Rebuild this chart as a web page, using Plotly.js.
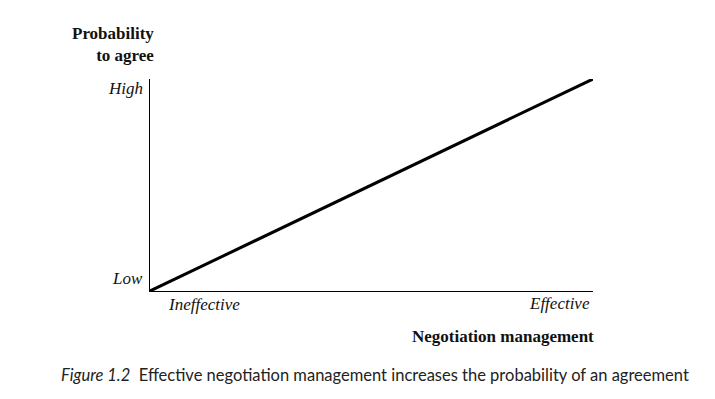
<!DOCTYPE html>
<html>
<head>
<meta charset="utf-8">
<script src="https://cdn.plot.ly/plotly-3.0.1.min.js"></script>
<style>html,body{margin:0;padding:0;background:#fff;}#chart{width:715px;height:399px;}</style>
</head>
<body>
<div id="chart"></div>
<script>
const management = [0, 1];
const probability = [0, 1];
const xTickLabels = ["Ineffective", "Effective"];
const yTickLabels = ["Low", "High"];
const xTitle = "Negotiation management";
const yTitle = "Probability<br>to agree";
const caption = "<i>Figure 1.2</i>  Effective negotiation management increases the probability of an agreement";

const serif = "Liberation Serif, Times New Roman, serif";
const tickFont = {family: serif, size: 17, color: "#111"};
const titleFont = {family: serif, size: 17, color: "#111", weight: "bold"};

const trace = {
  x: management, y: probability, type: "scatter", mode: "lines",
  line: {color: "#000", width: 3}, hoverinfo: "skip"
};

const layout = {
  width: 715, height: 399,
  margin: {l: 150, r: 122, t: 79, b: 108},
  paper_bgcolor: "#fff", plot_bgcolor: "#fff",
  showlegend: false,
  xaxis: {range: [0, 1], showline: true, linecolor: "#000", linewidth: 1.3,
          showgrid: false, zeroline: false, showticklabels: false, ticks: ""},
  yaxis: {range: [0, 1], showline: true, linecolor: "#000", linewidth: 1.3,
          showgrid: false, zeroline: false, showticklabels: false, ticks: ""},
  annotations: [
    {x: management[0], y: probability[0], xref: "x", yref: "y", text: "<i>" + yTickLabels[0] + "</i>",
     showarrow: false, xanchor: "right", yanchor: "middle", xshift: -5, yshift: 13, font: tickFont},
    {x: management[0], y: probability[1], xref: "x", yref: "y", text: "<i>" + yTickLabels[1] + "</i>",
     showarrow: false, xanchor: "right", yanchor: "middle", xshift: -5, yshift: -9, font: tickFont},
    {x: management[0], y: probability[0], xref: "x", yref: "y", text: "<i>" + xTickLabels[0] + "</i>",
     showarrow: false, xanchor: "left", yanchor: "middle", xshift: 16, yshift: -13, font: tickFont},
    {x: management[1], y: probability[0], xref: "x", yref: "y", text: "<i>" + xTickLabels[1] + "</i>",
     showarrow: false, xanchor: "right", yanchor: "middle", xshift: -1, yshift: -12, font: tickFont},
    {x: management[1], y: probability[0], xref: "x", yref: "y", text: "<b>" + xTitle + "</b>",
     showarrow: false, xanchor: "right", yanchor: "middle", xshift: 3, yshift: -45, font: titleFont},
    {x: management[0], y: probability[1], xref: "x", yref: "y", text: "<b>Probability</b><br><b>to agree</b>",
     showarrow: false, xanchor: "right", yanchor: "middle", align: "right", xshift: 6, yshift: 35, font: titleFont},
    {x: 0.5, y: 0, xref: "paper", yref: "paper", text: caption,
     showarrow: false, xanchor: "center", yanchor: "middle", xshift: 3, yshift: -84,
     font: {family: "Lato, Open Sans, sans-serif", size: 16.5, color: "#222"}}
  ]
};

Plotly.newPlot("chart", [trace], layout, {displayModeBar: false, staticPlot: true});
</script>
</body>
</html>
